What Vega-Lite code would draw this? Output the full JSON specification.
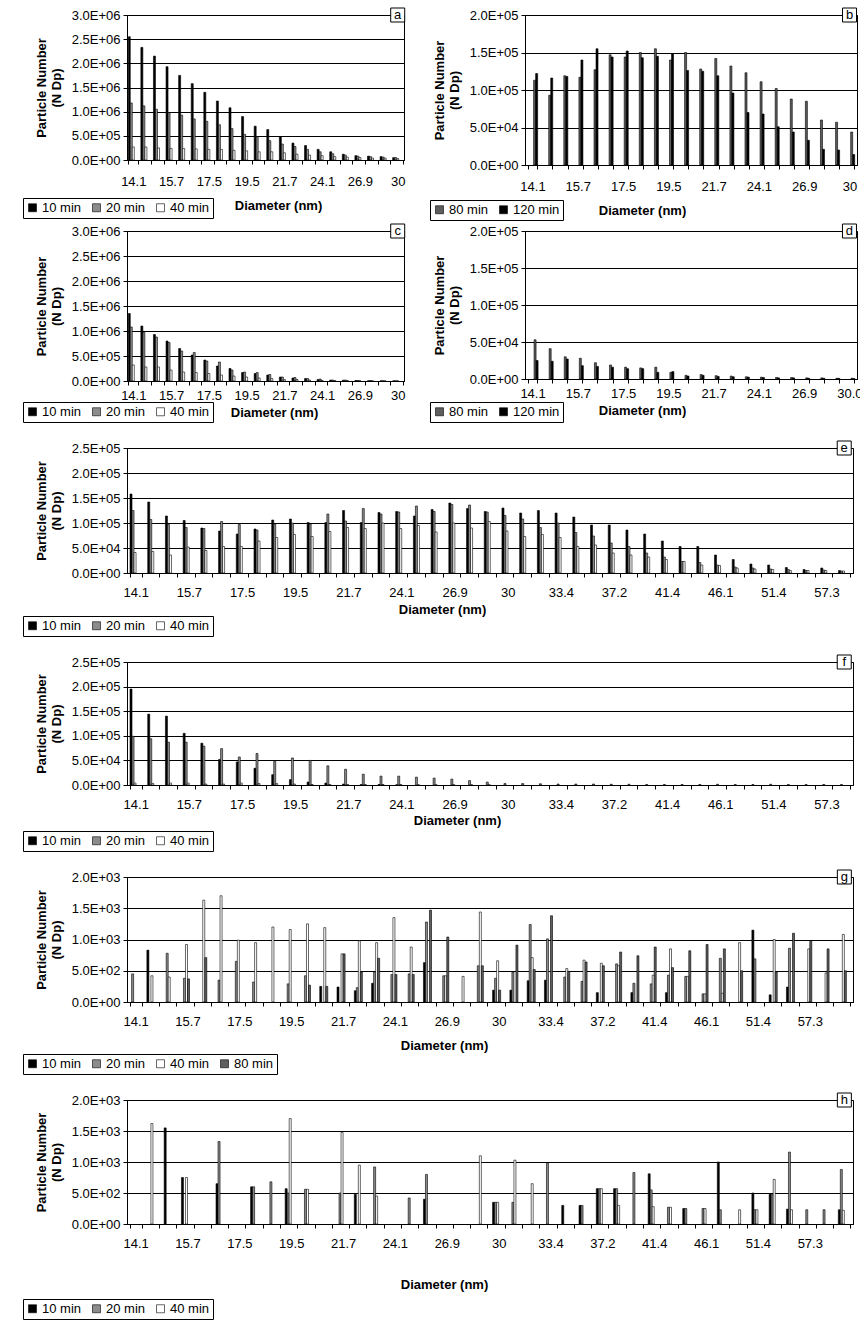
{
"$schema": "https://vega.github.io/schema/vega-lite/v6.json",
"padding": {"left": 22, "top": 5, "right": 4, "bottom": 3},
"background": "white",
"config": {
 "font": "Liberation Sans",
 "view": {"stroke": "black", "strokeWidth": 1},
 "axis": {"labelFontSize": 13, "titleFontSize": 13, "titleFontWeight": "bold", "labelColor": "black", "titleColor": "black", "domainColor": "black", "tickColor": "black", "gridColor": "black", "gridOpacity": 1, "labelFont": "Liberation Sans", "titleFont": "Liberation Sans"},
 "axisY": {"labelOverlap": false, "labelFlush": false, "titleLineHeight": 15},
 "legend": {"labelFont": "Liberation Sans", "labelFontSize": 13, "labelColor": "black"}
},
"datasets": {
"a": [
{"d":"14.1","s":"10 min","v":2550000},{"d":"14.6","s":"10 min","v":2330000},{"d":"15.1","s":"10 min","v":2150000},{"d":"15.7","s":"10 min","v":1930000},{"d":"16.3","s":"10 min","v":1750000},{"d":"16.8","s":"10 min","v":1580000},{"d":"17.5","s":"10 min","v":1400000},{"d":"18.1","s":"10 min","v":1220000},{"d":"18.8","s":"10 min","v":1080000},{"d":"19.5","s":"10 min","v":900000},{"d":"20.2","s":"10 min","v":700000},{"d":"20.9","s":"10 min","v":630000},{"d":"21.7","s":"10 min","v":480000},{"d":"22.5","s":"10 min","v":350000},{"d":"23.3","s":"10 min","v":300000},{"d":"24.1","s":"10 min","v":220000},{"d":"25.0","s":"10 min","v":170000},{"d":"25.9","s":"10 min","v":120000},{"d":"26.9","s":"10 min","v":90000},{"d":"27.9","s":"10 min","v":80000},{"d":"28.9","s":"10 min","v":70000},{"d":"30","s":"10 min","v":50000},
{"d":"14.1","s":"20 min","v":1180000},{"d":"14.6","s":"20 min","v":1120000},{"d":"15.1","s":"20 min","v":1050000},{"d":"15.7","s":"20 min","v":980000},{"d":"16.3","s":"20 min","v":930000},{"d":"16.8","s":"20 min","v":850000},{"d":"17.5","s":"20 min","v":800000},{"d":"18.1","s":"20 min","v":730000},{"d":"18.8","s":"20 min","v":650000},{"d":"19.5","s":"20 min","v":530000},{"d":"20.2","s":"20 min","v":480000},{"d":"20.9","s":"20 min","v":400000},{"d":"21.7","s":"20 min","v":330000},{"d":"22.5","s":"20 min","v":280000},{"d":"23.3","s":"20 min","v":220000},{"d":"24.1","s":"20 min","v":170000},{"d":"25.0","s":"20 min","v":130000},{"d":"25.9","s":"20 min","v":100000},{"d":"26.9","s":"20 min","v":80000},{"d":"27.9","s":"20 min","v":70000},{"d":"28.9","s":"20 min","v":60000},{"d":"30","s":"20 min","v":50000},
{"d":"14.1","s":"40 min","v":270000},{"d":"14.6","s":"40 min","v":270000},{"d":"15.1","s":"40 min","v":250000},{"d":"15.7","s":"40 min","v":240000},{"d":"16.3","s":"40 min","v":240000},{"d":"16.8","s":"40 min","v":230000},{"d":"17.5","s":"40 min","v":220000},{"d":"18.1","s":"40 min","v":220000},{"d":"18.8","s":"40 min","v":200000},{"d":"19.5","s":"40 min","v":190000},{"d":"20.2","s":"40 min","v":170000},{"d":"20.9","s":"40 min","v":170000},{"d":"21.7","s":"40 min","v":150000},{"d":"22.5","s":"40 min","v":120000},{"d":"23.3","s":"40 min","v":100000},{"d":"24.1","s":"40 min","v":90000},{"d":"25.0","s":"40 min","v":70000},{"d":"25.9","s":"40 min","v":60000},{"d":"26.9","s":"40 min","v":50000},{"d":"27.9","s":"40 min","v":40000},{"d":"28.9","s":"40 min","v":40000},{"d":"30","s":"40 min","v":30000}
],
"b": [
{"d":"14.1","s":"80 min","v":113000},{"d":"14.6","s":"80 min","v":93000},{"d":"15.1","s":"80 min","v":119000},{"d":"15.7","s":"80 min","v":117000},{"d":"16.3","s":"80 min","v":127000},{"d":"16.8","s":"80 min","v":147000},{"d":"17.5","s":"80 min","v":144000},{"d":"18.1","s":"80 min","v":150000},{"d":"18.8","s":"80 min","v":155000},{"d":"19.5","s":"80 min","v":140000},{"d":"20.2","s":"80 min","v":150000},{"d":"20.9","s":"80 min","v":128000},{"d":"21.7","s":"80 min","v":142000},{"d":"22.5","s":"80 min","v":132000},{"d":"23.3","s":"80 min","v":123000},{"d":"24.1","s":"80 min","v":111000},{"d":"25.0","s":"80 min","v":102000},{"d":"25.9","s":"80 min","v":88000},{"d":"26.9","s":"80 min","v":85000},{"d":"27.9","s":"80 min","v":60000},{"d":"28.9","s":"80 min","v":57000},{"d":"30","s":"80 min","v":44000},
{"d":"14.1","s":"120 min","v":122000},{"d":"14.6","s":"120 min","v":116000},{"d":"15.1","s":"120 min","v":118000},{"d":"15.7","s":"120 min","v":140000},{"d":"16.3","s":"120 min","v":155000},{"d":"16.8","s":"120 min","v":144000},{"d":"17.5","s":"120 min","v":152000},{"d":"18.1","s":"120 min","v":143000},{"d":"18.8","s":"120 min","v":145000},{"d":"19.5","s":"120 min","v":148000},{"d":"20.2","s":"120 min","v":126000},{"d":"20.9","s":"120 min","v":125000},{"d":"21.7","s":"120 min","v":119000},{"d":"22.5","s":"120 min","v":96000},{"d":"23.3","s":"120 min","v":70000},{"d":"24.1","s":"120 min","v":68000},{"d":"25.0","s":"120 min","v":51000},{"d":"25.9","s":"120 min","v":44000},{"d":"26.9","s":"120 min","v":33000},{"d":"27.9","s":"120 min","v":21000},{"d":"28.9","s":"120 min","v":20000},{"d":"30","s":"120 min","v":14000}
],
"c": [
{"d":"14.1","s":"10 min","v":1350000},{"d":"14.6","s":"10 min","v":1100000},{"d":"15.1","s":"10 min","v":930000},{"d":"15.7","s":"10 min","v":800000},{"d":"16.3","s":"10 min","v":650000},{"d":"16.8","s":"10 min","v":520000},{"d":"17.5","s":"10 min","v":420000},{"d":"18.1","s":"10 min","v":300000},{"d":"18.8","s":"10 min","v":250000},{"d":"19.5","s":"10 min","v":170000},{"d":"20.2","s":"10 min","v":150000},{"d":"20.9","s":"10 min","v":120000},{"d":"21.7","s":"10 min","v":80000},{"d":"22.5","s":"10 min","v":60000},{"d":"23.3","s":"10 min","v":50000},{"d":"24.1","s":"10 min","v":30000},{"d":"25.0","s":"10 min","v":20000},{"d":"25.9","s":"10 min","v":15000},{"d":"26.9","s":"10 min","v":10000},{"d":"27.9","s":"10 min","v":5000},{"d":"28.9","s":"10 min","v":4000},{"d":"30","s":"10 min","v":3000},
{"d":"14.1","s":"20 min","v":1080000},{"d":"14.6","s":"20 min","v":970000},{"d":"15.1","s":"20 min","v":880000},{"d":"15.7","s":"20 min","v":770000},{"d":"16.3","s":"20 min","v":600000},{"d":"16.8","s":"20 min","v":570000},{"d":"17.5","s":"20 min","v":400000},{"d":"18.1","s":"20 min","v":380000},{"d":"18.8","s":"20 min","v":220000},{"d":"19.5","s":"20 min","v":180000},{"d":"20.2","s":"20 min","v":170000},{"d":"20.9","s":"20 min","v":130000},{"d":"21.7","s":"20 min","v":80000},{"d":"22.5","s":"20 min","v":70000},{"d":"23.3","s":"20 min","v":50000},{"d":"24.1","s":"20 min","v":40000},{"d":"25.0","s":"20 min","v":20000},{"d":"25.9","s":"20 min","v":20000},{"d":"26.9","s":"20 min","v":10000},{"d":"27.9","s":"20 min","v":10000},{"d":"28.9","s":"20 min","v":5000},{"d":"30","s":"20 min","v":4000},
{"d":"14.1","s":"40 min","v":320000},{"d":"14.6","s":"40 min","v":280000},{"d":"15.1","s":"40 min","v":280000},{"d":"15.7","s":"40 min","v":220000},{"d":"16.3","s":"40 min","v":180000},{"d":"16.8","s":"40 min","v":170000},{"d":"17.5","s":"40 min","v":150000},{"d":"18.1","s":"40 min","v":120000},{"d":"18.8","s":"40 min","v":100000},{"d":"19.5","s":"40 min","v":80000},{"d":"20.2","s":"40 min","v":60000},{"d":"20.9","s":"40 min","v":50000},{"d":"21.7","s":"40 min","v":30000},{"d":"22.5","s":"40 min","v":30000},{"d":"23.3","s":"40 min","v":20000},{"d":"24.1","s":"40 min","v":10000},{"d":"25.0","s":"40 min","v":10000},{"d":"25.9","s":"40 min","v":10000},{"d":"26.9","s":"40 min","v":5000},{"d":"27.9","s":"40 min","v":3000},{"d":"28.9","s":"40 min","v":2000},{"d":"30","s":"40 min","v":2000}
],
"d": [
{"d":"14.1","s":"80 min","v":53000},{"d":"14.6","s":"80 min","v":41000},{"d":"15.1","s":"80 min","v":30000},{"d":"15.7","s":"80 min","v":28000},{"d":"16.3","s":"80 min","v":22000},{"d":"16.8","s":"80 min","v":19000},{"d":"17.5","s":"80 min","v":16000},{"d":"18.1","s":"80 min","v":15000},{"d":"18.8","s":"80 min","v":16000},{"d":"19.5","s":"80 min","v":9000},{"d":"20.2","s":"80 min","v":5000},{"d":"20.9","s":"80 min","v":6000},{"d":"21.7","s":"80 min","v":4500},{"d":"22.5","s":"80 min","v":4000},{"d":"23.3","s":"80 min","v":3000},{"d":"24.1","s":"80 min","v":2500},{"d":"25.0","s":"80 min","v":2000},{"d":"25.9","s":"80 min","v":2000},{"d":"26.9","s":"80 min","v":1500},{"d":"27.9","s":"80 min","v":1500},{"d":"28.9","s":"80 min","v":1000},{"d":"30.0","s":"80 min","v":1000},
{"d":"14.1","s":"120 min","v":25000},{"d":"14.6","s":"120 min","v":24000},{"d":"15.1","s":"120 min","v":27000},{"d":"15.7","s":"120 min","v":18000},{"d":"16.3","s":"120 min","v":17000},{"d":"16.8","s":"120 min","v":16000},{"d":"17.5","s":"120 min","v":14000},{"d":"18.1","s":"120 min","v":14000},{"d":"18.8","s":"120 min","v":9000},{"d":"19.5","s":"120 min","v":10000},{"d":"20.2","s":"120 min","v":4000},{"d":"20.9","s":"120 min","v":5000},{"d":"21.7","s":"120 min","v":3500},{"d":"22.5","s":"120 min","v":3000},{"d":"23.3","s":"120 min","v":2500},{"d":"24.1","s":"120 min","v":2000},{"d":"25.0","s":"120 min","v":1500},{"d":"25.9","s":"120 min","v":1500},{"d":"26.9","s":"120 min","v":1000},{"d":"27.9","s":"120 min","v":1000},{"d":"28.9","s":"120 min","v":800},{"d":"30.0","s":"120 min","v":500}
],
"e": [
{"d":"14.1","s":"10 min","v":158000},{"d":"14.6","s":"10 min","v":142000},{"d":"15.1","s":"10 min","v":114000},{"d":"15.7","s":"10 min","v":105000},{"d":"16.3","s":"10 min","v":90000},{"d":"16.8","s":"10 min","v":84000},{"d":"17.5","s":"10 min","v":78000},{"d":"18.1","s":"10 min","v":88000},{"d":"18.8","s":"10 min","v":106000},{"d":"19.5","s":"10 min","v":108000},{"d":"20.2","s":"10 min","v":101000},{"d":"20.9","s":"10 min","v":101000},{"d":"21.7","s":"10 min","v":125000},{"d":"22.5","s":"10 min","v":101000},{"d":"23.3","s":"10 min","v":121000},{"d":"24.1","s":"10 min","v":123000},{"d":"25.0","s":"10 min","v":114000},{"d":"25.9","s":"10 min","v":127000},{"d":"26.9","s":"10 min","v":140000},{"d":"27.9","s":"10 min","v":129000},{"d":"28.9","s":"10 min","v":123000},{"d":"30","s":"10 min","v":130000},{"d":"31.1","s":"10 min","v":120000},{"d":"32.2","s":"10 min","v":125000},{"d":"33.4","s":"10 min","v":120000},{"d":"34.6","s":"10 min","v":112000},{"d":"35.9","s":"10 min","v":96000},{"d":"37.2","s":"10 min","v":96000},{"d":"38.5","s":"10 min","v":86000},{"d":"40.0","s":"10 min","v":78000},{"d":"41.4","s":"10 min","v":64000},{"d":"42.9","s":"10 min","v":53000},{"d":"44.5","s":"10 min","v":53000},{"d":"46.1","s":"10 min","v":36000},{"d":"47.8","s":"10 min","v":27000},{"d":"49.6","s":"10 min","v":18000},{"d":"51.4","s":"10 min","v":16000},{"d":"53.3","s":"10 min","v":11000},{"d":"55.2","s":"10 min","v":7000},{"d":"57.3","s":"10 min","v":10000},{"d":"59.4","s":"10 min","v":5000},
{"d":"14.1","s":"20 min","v":125000},{"d":"14.6","s":"20 min","v":107000},{"d":"15.1","s":"20 min","v":97000},{"d":"15.7","s":"20 min","v":91000},{"d":"16.3","s":"20 min","v":89000},{"d":"16.8","s":"20 min","v":103000},{"d":"17.5","s":"20 min","v":97000},{"d":"18.1","s":"20 min","v":86000},{"d":"18.8","s":"20 min","v":98000},{"d":"19.5","s":"20 min","v":100000},{"d":"20.2","s":"20 min","v":98000},{"d":"20.9","s":"20 min","v":118000},{"d":"21.7","s":"20 min","v":104000},{"d":"22.5","s":"20 min","v":129000},{"d":"23.3","s":"20 min","v":118000},{"d":"24.1","s":"20 min","v":122000},{"d":"25.0","s":"20 min","v":134000},{"d":"25.9","s":"20 min","v":123000},{"d":"26.9","s":"20 min","v":137000},{"d":"27.9","s":"20 min","v":136000},{"d":"28.9","s":"20 min","v":122000},{"d":"30","s":"20 min","v":115000},{"d":"31.1","s":"20 min","v":108000},{"d":"32.2","s":"20 min","v":91000},{"d":"33.4","s":"20 min","v":100000},{"d":"34.6","s":"20 min","v":81000},{"d":"35.9","s":"20 min","v":74000},{"d":"37.2","s":"20 min","v":60000},{"d":"38.5","s":"20 min","v":53000},{"d":"40.0","s":"20 min","v":40000},{"d":"41.4","s":"20 min","v":32000},{"d":"42.9","s":"20 min","v":23000},{"d":"44.5","s":"20 min","v":21000},{"d":"46.1","s":"20 min","v":16000},{"d":"47.8","s":"20 min","v":12000},{"d":"49.6","s":"20 min","v":10000},{"d":"51.4","s":"20 min","v":8000},{"d":"53.3","s":"20 min","v":7000},{"d":"55.2","s":"20 min","v":5000},{"d":"57.3","s":"20 min","v":6000},{"d":"59.4","s":"20 min","v":4000},
{"d":"14.1","s":"40 min","v":41000},{"d":"14.6","s":"40 min","v":43000},{"d":"15.1","s":"40 min","v":36000},{"d":"15.7","s":"40 min","v":52000},{"d":"16.3","s":"40 min","v":45000},{"d":"16.8","s":"40 min","v":53000},{"d":"17.5","s":"40 min","v":53000},{"d":"18.1","s":"40 min","v":64000},{"d":"18.8","s":"40 min","v":71000},{"d":"19.5","s":"40 min","v":77000},{"d":"20.2","s":"40 min","v":73000},{"d":"20.9","s":"40 min","v":83000},{"d":"21.7","s":"40 min","v":91000},{"d":"22.5","s":"40 min","v":89000},{"d":"23.3","s":"40 min","v":100000},{"d":"24.1","s":"40 min","v":89000},{"d":"25.0","s":"40 min","v":95000},{"d":"25.9","s":"40 min","v":82000},{"d":"26.9","s":"40 min","v":100000},{"d":"27.9","s":"40 min","v":90000},{"d":"28.9","s":"40 min","v":103000},{"d":"30","s":"40 min","v":84000},{"d":"31.1","s":"40 min","v":73000},{"d":"32.2","s":"40 min","v":77000},{"d":"33.4","s":"40 min","v":71000},{"d":"34.6","s":"40 min","v":53000},{"d":"35.9","s":"40 min","v":56000},{"d":"37.2","s":"40 min","v":40000},{"d":"38.5","s":"40 min","v":36000},{"d":"40.0","s":"40 min","v":32000},{"d":"41.4","s":"40 min","v":27000},{"d":"42.9","s":"40 min","v":23000},{"d":"44.5","s":"40 min","v":16000},{"d":"46.1","s":"40 min","v":15000},{"d":"47.8","s":"40 min","v":10000},{"d":"49.6","s":"40 min","v":8000},{"d":"51.4","s":"40 min","v":7000},{"d":"53.3","s":"40 min","v":5000},{"d":"55.2","s":"40 min","v":5000},{"d":"57.3","s":"40 min","v":5000},{"d":"59.4","s":"40 min","v":4000}
],
"f": [
{"d":"14.1","s":"10 min","v":195000},{"d":"14.6","s":"10 min","v":144000},{"d":"15.1","s":"10 min","v":140000},{"d":"15.7","s":"10 min","v":105000},{"d":"16.3","s":"10 min","v":85000},{"d":"16.8","s":"10 min","v":52000},{"d":"17.5","s":"10 min","v":47000},{"d":"18.1","s":"10 min","v":34000},{"d":"18.8","s":"10 min","v":21000},{"d":"19.5","s":"10 min","v":11000},{"d":"20.2","s":"10 min","v":6000},{"d":"20.9","s":"10 min","v":4000},{"d":"21.7","s":"10 min","v":2000},{"d":"22.5","s":"10 min","v":1000},{"d":"23.3","s":"10 min","v":1000},{"d":"24.1","s":"10 min","v":500},
{"d":"14.1","s":"20 min","v":99000},{"d":"14.6","s":"20 min","v":94000},{"d":"15.1","s":"20 min","v":87000},{"d":"15.7","s":"20 min","v":87000},{"d":"16.3","s":"20 min","v":79000},{"d":"16.8","s":"20 min","v":74000},{"d":"17.5","s":"20 min","v":57000},{"d":"18.1","s":"20 min","v":64000},{"d":"18.8","s":"20 min","v":48000},{"d":"19.5","s":"20 min","v":55000},{"d":"20.2","s":"20 min","v":50000},{"d":"20.9","s":"20 min","v":39000},{"d":"21.7","s":"20 min","v":32000},{"d":"22.5","s":"20 min","v":22000},{"d":"23.3","s":"20 min","v":18000},{"d":"24.1","s":"20 min","v":18000},{"d":"25.0","s":"20 min","v":16000},{"d":"25.9","s":"20 min","v":14000},{"d":"26.9","s":"20 min","v":12000},{"d":"27.9","s":"20 min","v":9000},{"d":"28.9","s":"20 min","v":6000},{"d":"30","s":"20 min","v":3000},{"d":"31.1","s":"20 min","v":3000},{"d":"32.2","s":"20 min","v":2500},{"d":"33.4","s":"20 min","v":2000},{"d":"34.6","s":"20 min","v":2000},{"d":"35.9","s":"20 min","v":2000},{"d":"37.2","s":"20 min","v":1500},{"d":"38.5","s":"20 min","v":1500},{"d":"40.0","s":"20 min","v":1000},{"d":"41.4","s":"20 min","v":1000},{"d":"42.9","s":"20 min","v":1000},{"d":"44.5","s":"20 min","v":1000},{"d":"46.1","s":"20 min","v":1500},{"d":"47.8","s":"20 min","v":1000},{"d":"49.6","s":"20 min","v":1000},{"d":"51.4","s":"20 min","v":1500},{"d":"53.3","s":"20 min","v":1000},{"d":"55.2","s":"20 min","v":1000},{"d":"57.3","s":"20 min","v":1000},{"d":"59.4","s":"20 min","v":1000},
{"d":"14.1","s":"40 min","v":4000},{"d":"14.6","s":"40 min","v":3000},{"d":"15.1","s":"40 min","v":4000},{"d":"15.7","s":"40 min","v":4000},{"d":"16.3","s":"40 min","v":2000},{"d":"16.8","s":"40 min","v":2000},{"d":"17.5","s":"40 min","v":4000},{"d":"18.1","s":"40 min","v":3000},{"d":"18.8","s":"40 min","v":3000},{"d":"19.5","s":"40 min","v":2000},{"d":"20.2","s":"40 min","v":1000},{"d":"20.9","s":"40 min","v":1000},{"d":"21.7","s":"40 min","v":1000},{"d":"22.5","s":"40 min","v":1000},{"d":"23.3","s":"40 min","v":1000},{"d":"24.1","s":"40 min","v":1000},{"d":"25.0","s":"40 min","v":500},{"d":"25.9","s":"40 min","v":500},{"d":"26.9","s":"40 min","v":500},{"d":"27.9","s":"40 min","v":500},{"d":"28.9","s":"40 min","v":500}
],
"g": [
{"d":"14.1","s":"20 min","v":450},
{"d":"14.6","s":"10 min","v":830},{"d":"14.6","s":"40 min","v":420},
{"d":"15.1","s":"20 min","v":780},{"d":"15.1","s":"40 min","v":400},
{"d":"15.7","s":"20 min","v":380},{"d":"15.7","s":"40 min","v":920},{"d":"15.7","s":"80 min","v":370},
{"d":"16.3","s":"40 min","v":1630},{"d":"16.3","s":"80 min","v":710},
{"d":"16.8","s":"20 min","v":350},{"d":"16.8","s":"40 min","v":1700},
{"d":"17.5","s":"20 min","v":650},{"d":"17.5","s":"40 min","v":990},
{"d":"18.1","s":"20 min","v":320},{"d":"18.1","s":"40 min","v":950},
{"d":"18.8","s":"40 min","v":1200},
{"d":"19.5","s":"20 min","v":290},{"d":"19.5","s":"40 min","v":1160},
{"d":"20.2","s":"20 min","v":420},{"d":"20.2","s":"40 min","v":1250},{"d":"20.2","s":"80 min","v":270},
{"d":"20.9","s":"10 min","v":250},{"d":"20.9","s":"40 min","v":1190},{"d":"20.9","s":"80 min","v":250},
{"d":"21.7","s":"10 min","v":240},{"d":"21.7","s":"40 min","v":770},{"d":"21.7","s":"80 min","v":770},
{"d":"22.5","s":"10 min","v":180},{"d":"22.5","s":"20 min","v":230},{"d":"22.5","s":"40 min","v":980},{"d":"22.5","s":"80 min","v":480},
{"d":"23.3","s":"10 min","v":300},{"d":"23.3","s":"20 min","v":480},{"d":"23.3","s":"40 min","v":950},{"d":"23.3","s":"80 min","v":700},
{"d":"24.1","s":"20 min","v":440},{"d":"24.1","s":"40 min","v":1350},{"d":"24.1","s":"80 min","v":440},
{"d":"25.0","s":"20 min","v":450},{"d":"25.0","s":"40 min","v":880},{"d":"25.0","s":"80 min","v":440},
{"d":"25.9","s":"10 min","v":630},{"d":"25.9","s":"20 min","v":1280},{"d":"25.9","s":"80 min","v":1470},
{"d":"26.9","s":"20 min","v":420},{"d":"26.9","s":"40 min","v":420},{"d":"26.9","s":"80 min","v":1040},
{"d":"27.9","s":"40 min","v":410},
{"d":"28.9","s":"20 min","v":580},{"d":"28.9","s":"40 min","v":1440},{"d":"28.9","s":"80 min","v":580},
{"d":"30","s":"10 min","v":190},{"d":"30","s":"20 min","v":380},{"d":"30","s":"40 min","v":660},{"d":"30","s":"80 min","v":190},
{"d":"31.1","s":"10 min","v":190},{"d":"31.1","s":"20 min","v":480},{"d":"31.1","s":"80 min","v":910},
{"d":"32.2","s":"10 min","v":340},{"d":"32.2","s":"20 min","v":1240},{"d":"32.2","s":"40 min","v":710},{"d":"32.2","s":"80 min","v":520},
{"d":"33.4","s":"10 min","v":350},{"d":"33.4","s":"20 min","v":1010},{"d":"33.4","s":"80 min","v":1380},
{"d":"34.6","s":"20 min","v":400},{"d":"34.6","s":"40 min","v":535},{"d":"34.6","s":"80 min","v":490},
{"d":"35.9","s":"20 min","v":330},{"d":"35.9","s":"40 min","v":670},{"d":"35.9","s":"80 min","v":640},
{"d":"37.2","s":"10 min","v":150},{"d":"37.2","s":"40 min","v":620},{"d":"37.2","s":"80 min","v":580},
{"d":"38.5","s":"20 min","v":610},{"d":"38.5","s":"40 min","v":580},{"d":"38.5","s":"80 min","v":800},
{"d":"40.0","s":"10 min","v":150},{"d":"40.0","s":"20 min","v":300},{"d":"40.0","s":"80 min","v":740},
{"d":"41.4","s":"20 min","v":290},{"d":"41.4","s":"40 min","v":430},{"d":"41.4","s":"80 min","v":880},
{"d":"42.9","s":"10 min","v":150},{"d":"42.9","s":"20 min","v":430},{"d":"42.9","s":"40 min","v":850},{"d":"42.9","s":"80 min","v":550},
{"d":"44.5","s":"20 min","v":410},{"d":"44.5","s":"40 min","v":410},{"d":"44.5","s":"80 min","v":820},
{"d":"46.1","s":"20 min","v":130},{"d":"46.1","s":"40 min","v":130},{"d":"46.1","s":"80 min","v":920},
{"d":"47.8","s":"20 min","v":700},{"d":"47.8","s":"40 min","v":140},{"d":"47.8","s":"80 min","v":850},
{"d":"49.6","s":"40 min","v":950},{"d":"49.6","s":"80 min","v":500},
{"d":"51.4","s":"10 min","v":1150},{"d":"51.4","s":"20 min","v":690},
{"d":"53.3","s":"10 min","v":115},{"d":"53.3","s":"40 min","v":1000},{"d":"53.3","s":"80 min","v":480},
{"d":"55.2","s":"10 min","v":240},{"d":"55.2","s":"20 min","v":860},{"d":"55.2","s":"80 min","v":1100},
{"d":"57.3","s":"40 min","v":850},{"d":"57.3","s":"80 min","v":970},
{"d":"59.4","s":"40 min","v":465},{"d":"59.4","s":"80 min","v":850},
{"d":"61.5","s":"40 min","v":1080},{"d":"61.5","s":"80 min","v":500}
],
"h": [
{"d":"14.6","s":"40 min","v":1620},
{"d":"15.1","s":"10 min","v":1550},
{"d":"15.7","s":"10 min","v":750},{"d":"15.7","s":"40 min","v":750},
{"d":"16.8","s":"10 min","v":650},{"d":"16.8","s":"20 min","v":1330},
{"d":"18.1","s":"10 min","v":600},{"d":"18.1","s":"20 min","v":600},
{"d":"18.8","s":"20 min","v":680},
{"d":"19.5","s":"10 min","v":570},{"d":"19.5","s":"20 min","v":500},{"d":"19.5","s":"40 min","v":1700},
{"d":"20.2","s":"20 min","v":560},{"d":"20.2","s":"40 min","v":560},
{"d":"21.7","s":"20 min","v":500},{"d":"21.7","s":"40 min","v":1480},
{"d":"22.5","s":"10 min","v":480},{"d":"22.5","s":"40 min","v":950},
{"d":"23.3","s":"20 min","v":920},{"d":"23.3","s":"40 min","v":450},
{"d":"25.0","s":"20 min","v":420},
{"d":"25.9","s":"10 min","v":400},{"d":"25.9","s":"20 min","v":800},
{"d":"28.9","s":"40 min","v":1100},
{"d":"30","s":"10 min","v":350},{"d":"30","s":"20 min","v":350},{"d":"30","s":"40 min","v":350},
{"d":"31.1","s":"20 min","v":350},{"d":"31.1","s":"40 min","v":1030},
{"d":"32.2","s":"40 min","v":650},
{"d":"33.4","s":"20 min","v":980},
{"d":"34.6","s":"10 min","v":300},
{"d":"35.9","s":"10 min","v":300},{"d":"35.9","s":"20 min","v":300},
{"d":"37.2","s":"10 min","v":570},{"d":"37.2","s":"20 min","v":570},{"d":"37.2","s":"40 min","v":570},
{"d":"38.5","s":"10 min","v":570},{"d":"38.5","s":"20 min","v":570},{"d":"38.5","s":"40 min","v":300},
{"d":"40.0","s":"20 min","v":830},
{"d":"41.4","s":"10 min","v":810},{"d":"41.4","s":"20 min","v":550},{"d":"41.4","s":"40 min","v":280},
{"d":"42.9","s":"20 min","v":270},{"d":"42.9","s":"40 min","v":270},
{"d":"44.5","s":"10 min","v":250},{"d":"44.5","s":"20 min","v":250},
{"d":"46.1","s":"20 min","v":250},{"d":"46.1","s":"40 min","v":250},
{"d":"47.8","s":"10 min","v":1000},{"d":"47.8","s":"20 min","v":230},
{"d":"49.6","s":"40 min","v":230},
{"d":"51.4","s":"10 min","v":500},{"d":"51.4","s":"20 min","v":230},{"d":"51.4","s":"40 min","v":230},
{"d":"53.3","s":"10 min","v":480},{"d":"53.3","s":"20 min","v":480},{"d":"53.3","s":"40 min","v":720},
{"d":"55.2","s":"10 min","v":240},{"d":"55.2","s":"20 min","v":1160},{"d":"55.2","s":"40 min","v":230},
{"d":"57.3","s":"20 min","v":230},
{"d":"59.4","s":"20 min","v":230},
{"d":"61.5","s":"10 min","v":230},{"d":"61.5","s":"20 min","v":880},{"d":"61.5","s":"40 min","v":220}
]
},
"resolve": {"scale": {"fill": "independent"}, "legend": {"fill": "independent"}},
"spacing": 15,
"vconcat": [
{
"spacing": 0,
"resolve": {"scale": {"fill": "independent"}, "legend": {"fill": "independent"}},
"vconcat": [
{
"spacing": 21,
"resolve": {"scale": {"fill": "independent"}, "legend": {"fill": "independent"}},
"hconcat": [
{
"width": 277, "height": 145,
"layer": [
{"data": {"name": "a"}, "mark": {"type": "bar", "stroke": "black", "strokeWidth": 0.6},
 "encoding": {
  "x": {"field": "d", "type": "nominal", "scale": {"domain": ["14.1","14.6","15.1","15.7","16.3","16.8","17.5","18.1","18.8","19.5","20.2","20.9","21.7","22.5","23.3","24.1","25.0","25.9","26.9","27.9","28.9","30"], "paddingInner": 0.2, "paddingOuter": 0.1},
   "axis": {"title": "Diameter (nm)", "labelAngle": 0, "labelOverlap": false, "tickBand": "extent", "tickSize": 4, "labelPadding": 11, "titleX": 151, "titleY": 45, "titleBaseline": "middle", "labelExpr": "indexof(['14.1','15.7','17.5','19.5','21.7','24.1','26.9','30','30.0','33.4','37.2','41.4','46.1','51.4','57.3'], datum.label) >= 0 ? datum.label : ''"}},
  "xOffset": {"field": "s", "type": "nominal", "scale": {"domain": ["10 min","20 min","40 min"]}},
  "y": {"field": "v", "type": "quantitative", "scale": {"domain": [0, 3000000], "nice": false},
   "axis": {"values": [0,500000,1000000,1500000,2000000,2500000,3000000], "tickCount": 10, "labelExpr": "replace(format(datum.value,'.1e'),'e+','E+0')", "title": ["Particle Number","(N Dp)"], "grid": true, "tickSize": 4, "labelPadding": 3, "titlePadding": 8}},
  "fill": {"field": "s", "type": "nominal", "scale": {"domain": ["10 min","20 min","40 min"], "range": ["#000000","#8c8c8c","#ffffff"]},
   "legend": {"orient": "none", "legendX": -104, "legendY": 183, "direction": "horizontal", "columns": 3, "title": null, "strokeColor": "black", "fillColor": "white", "padding": 3, "symbolType": "square", "symbolSize": 64, "symbolStrokeColor": "black", "symbolStrokeWidth": 0.6, "columnPadding": 8, "labelOffset": 3}}
 }},
{"data": {"values": [{"t": "a"}]}, "mark": {"type": "point", "shape": "square", "size": 196, "filled": true, "fill": "white", "stroke": "black", "strokeWidth": 1, "opacity": 1}, "encoding": {"x": {"datum": "30"}, "y": {"datum": 3000000, "axis": {"values": [0,500000,1000000,1500000,2000000,2500000,3000000], "tickCount": 10, "labelExpr": "replace(format(datum.value,'.1e'),'e+','E+0')", "title": ["Particle Number","(N Dp)"], "grid": true, "tickSize": 4, "labelPadding": 3, "titlePadding": 8}}}},
{"data": {"values": [{"t": "a"}]}, "mark": {"type": "text", "fontSize": 13, "color": "black"}, "encoding": {"x": {"datum": "30"}, "y": {"datum": 3000000, "axis": {"values": [0,500000,1000000,1500000,2000000,2500000,3000000], "tickCount": 10, "labelExpr": "replace(format(datum.value,'.1e'),'e+','E+0')", "title": ["Particle Number","(N Dp)"], "grid": true, "tickSize": 4, "labelPadding": 3, "titlePadding": 8}}, "text": {"field": "t"}}}
]
},
{
"width": 332, "height": 150,
"layer": [
{"data": {"name": "b"}, "mark": {"type": "bar", "stroke": "black", "strokeWidth": 0.6},
 "encoding": {
  "x": {"field": "d", "type": "nominal", "scale": {"domain": ["14.1","14.6","15.1","15.7","16.3","16.8","17.5","18.1","18.8","19.5","20.2","20.9","21.7","22.5","23.3","24.1","25.0","25.9","26.9","27.9","28.9","30"], "paddingInner": 0.35, "paddingOuter": 0.17},
   "axis": {"title": "Diameter (nm)", "labelAngle": 0, "labelOverlap": false, "tickBand": "extent", "tickSize": 4, "labelPadding": 11, "titleX": 117, "titleY": 45, "titleBaseline": "middle", "labelExpr": "indexof(['14.1','15.7','17.5','19.5','21.7','24.1','26.9','30','30.0','33.4','37.2','41.4','46.1','51.4','57.3'], datum.label) >= 0 ? datum.label : ''"}},
  "xOffset": {"field": "s", "type": "nominal", "scale": {"domain": ["80 min","120 min"]}},
  "y": {"field": "v", "type": "quantitative", "scale": {"domain": [0, 200000], "nice": false},
   "axis": {"values": [0,50000,100000,150000,200000], "tickCount": 10, "labelExpr": "replace(format(datum.value,'.1e'),'e+','E+0')", "title": ["Particle Number","(N Dp)"], "grid": true, "tickSize": 4, "labelPadding": 3, "titlePadding": 8}},
  "fill": {"field": "s", "type": "nominal", "scale": {"domain": ["80 min","120 min"], "range": ["#5e5e5e","#000000"]},
   "legend": {"orient": "none", "legendX": -95, "legendY": 185, "direction": "horizontal", "columns": 2, "title": null, "strokeColor": "black", "fillColor": "white", "padding": 3, "symbolType": "square", "symbolSize": 64, "symbolStrokeColor": "black", "symbolStrokeWidth": 0.6, "columnPadding": 8, "labelOffset": 3}}
 }},
{"data": {"values": [{"t": "b"}]}, "mark": {"type": "point", "shape": "square", "size": 196, "filled": true, "fill": "white", "stroke": "black", "strokeWidth": 1, "opacity": 1}, "encoding": {"x": {"datum": "30"}, "y": {"datum": 200000, "axis": {"values": [0,50000,100000,150000,200000], "tickCount": 10, "labelExpr": "replace(format(datum.value,'.1e'),'e+','E+0')", "title": ["Particle Number","(N Dp)"], "grid": true, "tickSize": 4, "labelPadding": 3, "titlePadding": 8}}}},
{"data": {"values": [{"t": "b"}]}, "mark": {"type": "text", "fontSize": 13, "color": "black"}, "encoding": {"x": {"datum": "30"}, "y": {"datum": 200000, "axis": {"values": [0,50000,100000,150000,200000], "tickCount": 10, "labelExpr": "replace(format(datum.value,'.1e'),'e+','E+0')", "title": ["Particle Number","(N Dp)"], "grid": true, "tickSize": 4, "labelPadding": 3, "titlePadding": 8}}, "text": {"field": "t"}}}
]
}
]
},
{
"spacing": 21,
"resolve": {"scale": {"fill": "independent"}, "legend": {"fill": "independent"}},
"hconcat": [
{
"width": 277, "height": 150,
"layer": [
{"data": {"name": "c"}, "mark": {"type": "bar", "stroke": "black", "strokeWidth": 0.6},
 "encoding": {
  "x": {"field": "d", "type": "nominal", "scale": {"domain": ["14.1","14.6","15.1","15.7","16.3","16.8","17.5","18.1","18.8","19.5","20.2","20.9","21.7","22.5","23.3","24.1","25.0","25.9","26.9","27.9","28.9","30"], "paddingInner": 0.2, "paddingOuter": 0.1},
   "axis": {"title": "Diameter (nm)", "labelAngle": 0, "labelOverlap": false, "tickBand": "extent", "tickSize": 4, "labelPadding": 4, "titleX": 147, "titleY": 31, "titleBaseline": "middle", "labelExpr": "indexof(['14.1','15.7','17.5','19.5','21.7','24.1','26.9','30','30.0','33.4','37.2','41.4','46.1','51.4','57.3'], datum.label) >= 0 ? datum.label : ''"}},
  "xOffset": {"field": "s", "type": "nominal", "scale": {"domain": ["10 min","20 min","40 min"]}},
  "y": {"field": "v", "type": "quantitative", "scale": {"domain": [0, 3000000], "nice": false},
   "axis": {"values": [0,500000,1000000,1500000,2000000,2500000,3000000], "tickCount": 10, "labelExpr": "replace(format(datum.value,'.1e'),'e+','E+0')", "title": ["Particle Number","(N Dp)"], "grid": true, "tickSize": 4, "labelPadding": 3, "titlePadding": 8}},
  "fill": {"field": "s", "type": "nominal", "scale": {"domain": ["10 min","20 min","40 min"], "range": ["#000000","#8c8c8c","#ffffff"]},
   "legend": {"orient": "none", "legendX": -104, "legendY": 171, "direction": "horizontal", "columns": 3, "title": null, "strokeColor": "black", "fillColor": "white", "padding": 3, "symbolType": "square", "symbolSize": 64, "symbolStrokeColor": "black", "symbolStrokeWidth": 0.6, "columnPadding": 8, "labelOffset": 3}}
 }},
{"data": {"values": [{"t": "c"}]}, "mark": {"type": "point", "shape": "square", "size": 196, "filled": true, "fill": "white", "stroke": "black", "strokeWidth": 1, "opacity": 1}, "encoding": {"x": {"datum": "30"}, "y": {"datum": 3000000, "axis": {"values": [0,500000,1000000,1500000,2000000,2500000,3000000], "tickCount": 10, "labelExpr": "replace(format(datum.value,'.1e'),'e+','E+0')", "title": ["Particle Number","(N Dp)"], "grid": true, "tickSize": 4, "labelPadding": 3, "titlePadding": 8}}}},
{"data": {"values": [{"t": "c"}]}, "mark": {"type": "text", "fontSize": 13, "color": "black"}, "encoding": {"x": {"datum": "30"}, "y": {"datum": 3000000, "axis": {"values": [0,500000,1000000,1500000,2000000,2500000,3000000], "tickCount": 10, "labelExpr": "replace(format(datum.value,'.1e'),'e+','E+0')", "title": ["Particle Number","(N Dp)"], "grid": true, "tickSize": 4, "labelPadding": 3, "titlePadding": 8}}, "text": {"field": "t"}}}
]
},
{
"width": 332, "height": 148,
"layer": [
{"data": {"name": "d"}, "mark": {"type": "bar", "stroke": "black", "strokeWidth": 0.6},
 "encoding": {
  "x": {"field": "d", "type": "nominal", "scale": {"domain": ["14.1","14.6","15.1","15.7","16.3","16.8","17.5","18.1","18.8","19.5","20.2","20.9","21.7","22.5","23.3","24.1","25.0","25.9","26.9","27.9","28.9","30.0"], "paddingInner": 0.4, "paddingOuter": 0.2},
   "axis": {"title": "Diameter (nm)", "labelAngle": 0, "labelOverlap": false, "tickBand": "extent", "tickSize": 4, "labelPadding": 4, "titleX": 117, "titleY": 31, "titleBaseline": "middle", "labelExpr": "indexof(['14.1','15.7','17.5','19.5','21.7','24.1','26.9','30','30.0','33.4','37.2','41.4','46.1','51.4','57.3'], datum.label) >= 0 ? datum.label : ''"}},
  "xOffset": {"field": "s", "type": "nominal", "scale": {"domain": ["80 min","120 min"]}},
  "y": {"field": "v", "type": "quantitative", "scale": {"domain": [0, 200000], "nice": false},
   "axis": {"values": [0,50000,100000,150000,200000], "tickCount": 10, "labelExpr": "replace(format(datum.value,'.1e'),'e+','E+0')", "title": ["Particle Number","(N Dp)"], "grid": true, "tickSize": 4, "labelPadding": 3, "titlePadding": 8}},
  "fill": {"field": "s", "type": "nominal", "scale": {"domain": ["80 min","120 min"], "range": ["#5e5e5e","#000000"]},
   "legend": {"orient": "none", "legendX": -95, "legendY": 171, "direction": "horizontal", "columns": 2, "title": null, "strokeColor": "black", "fillColor": "white", "padding": 3, "symbolType": "square", "symbolSize": 64, "symbolStrokeColor": "black", "symbolStrokeWidth": 0.6, "columnPadding": 8, "labelOffset": 3}}
 }},
{"data": {"values": [{"t": "d"}]}, "mark": {"type": "point", "shape": "square", "size": 196, "filled": true, "fill": "white", "stroke": "black", "strokeWidth": 1, "opacity": 1}, "encoding": {"x": {"datum": "30.0"}, "y": {"datum": 200000, "axis": {"values": [0,50000,100000,150000,200000], "tickCount": 10, "labelExpr": "replace(format(datum.value,'.1e'),'e+','E+0')", "title": ["Particle Number","(N Dp)"], "grid": true, "tickSize": 4, "labelPadding": 3, "titlePadding": 8}}}},
{"data": {"values": [{"t": "d"}]}, "mark": {"type": "text", "fontSize": 13, "color": "black"}, "encoding": {"x": {"datum": "30.0"}, "y": {"datum": 200000, "axis": {"values": [0,50000,100000,150000,200000], "tickCount": 10, "labelExpr": "replace(format(datum.value,'.1e'),'e+','E+0')", "title": ["Particle Number","(N Dp)"], "grid": true, "tickSize": 4, "labelPadding": 3, "titlePadding": 8}}, "text": {"field": "t"}}}
]
}
]
}
]
},
{
"width": 726, "height": 125,
"layer": [
{"data": {"name": "e"}, "mark": {"type": "bar", "stroke": "black", "strokeWidth": 0.6},
 "encoding": {
  "x": {"field": "d", "type": "nominal", "scale": {"domain": ["14.1","14.6","15.1","15.7","16.3","16.8","17.5","18.1","18.8","19.5","20.2","20.9","21.7","22.5","23.3","24.1","25.0","25.9","26.9","27.9","28.9","30","31.1","32.2","33.4","34.6","35.9","37.2","38.5","40.0","41.4","42.9","44.5","46.1","47.8","49.6","51.4","53.3","55.2","57.3","59.4"], "paddingInner": 0.35, "paddingOuter": 0.17},
   "axis": {"title": "Diameter (nm)", "labelAngle": 0, "labelOverlap": false, "tickBand": "extent", "tickSize": 4, "labelPadding": 9, "titleX": 315, "titleY": 36, "titleBaseline": "middle", "labelExpr": "indexof(['14.1','15.7','17.5','19.5','21.7','24.1','26.9','30','30.0','33.4','37.2','41.4','46.1','51.4','57.3'], datum.label) >= 0 ? datum.label : ''"}},
  "xOffset": {"field": "s", "type": "nominal", "scale": {"domain": ["10 min","20 min","40 min"]}},
  "y": {"field": "v", "type": "quantitative", "scale": {"domain": [0, 250000], "nice": false},
   "axis": {"values": [0,50000,100000,150000,200000,250000], "tickCount": 10, "labelExpr": "replace(format(datum.value,'.1e'),'e+','E+0')", "title": ["Particle Number","(N Dp)"], "grid": true, "tickSize": 4, "labelPadding": 3, "titlePadding": 8}},
  "fill": {"field": "s", "type": "nominal", "scale": {"domain": ["10 min","20 min","40 min"], "range": ["#000000","#8c8c8c","#ffffff"]},
   "legend": {"orient": "none", "legendX": -104, "legendY": 168, "direction": "horizontal", "columns": 3, "title": null, "strokeColor": "black", "fillColor": "white", "padding": 3, "symbolType": "square", "symbolSize": 64, "symbolStrokeColor": "black", "symbolStrokeWidth": 0.6, "columnPadding": 8, "labelOffset": 3}}
 }},
{"data": {"values": [{"t": "e"}]}, "mark": {"type": "point", "shape": "square", "size": 196, "filled": true, "fill": "white", "stroke": "black", "strokeWidth": 1, "opacity": 1}, "encoding": {"x": {"datum": "59.4"}, "y": {"datum": 250000, "axis": {"values": [0,50000,100000,150000,200000,250000], "tickCount": 10, "labelExpr": "replace(format(datum.value,'.1e'),'e+','E+0')", "title": ["Particle Number","(N Dp)"], "grid": true, "tickSize": 4, "labelPadding": 3, "titlePadding": 8}}}},
{"data": {"values": [{"t": "e"}]}, "mark": {"type": "text", "fontSize": 13, "color": "black"}, "encoding": {"x": {"datum": "59.4"}, "y": {"datum": 250000, "axis": {"values": [0,50000,100000,150000,200000,250000], "tickCount": 10, "labelExpr": "replace(format(datum.value,'.1e'),'e+','E+0')", "title": ["Particle Number","(N Dp)"], "grid": true, "tickSize": 4, "labelPadding": 3, "titlePadding": 8}}, "text": {"field": "t"}}}
]
},
{
"width": 726, "height": 123,
"layer": [
{"data": {"name": "f"}, "mark": {"type": "bar", "stroke": "black", "strokeWidth": 0.6},
 "encoding": {
  "x": {"field": "d", "type": "nominal", "scale": {"domain": ["14.1","14.6","15.1","15.7","16.3","16.8","17.5","18.1","18.8","19.5","20.2","20.9","21.7","22.5","23.3","24.1","25.0","25.9","26.9","27.9","28.9","30","31.1","32.2","33.4","34.6","35.9","37.2","38.5","40.0","41.4","42.9","44.5","46.1","47.8","49.6","51.4","53.3","55.2","57.3","59.4"], "paddingInner": 0.35, "paddingOuter": 0.17},
   "axis": {"title": "Diameter (nm)", "labelAngle": 0, "labelOverlap": false, "tickBand": "extent", "tickSize": 4, "labelPadding": 9, "titleX": 330, "titleY": 35, "titleBaseline": "middle", "labelExpr": "indexof(['14.1','15.7','17.5','19.5','21.7','24.1','26.9','30','30.0','33.4','37.2','41.4','46.1','51.4','57.3'], datum.label) >= 0 ? datum.label : ''"}},
  "xOffset": {"field": "s", "type": "nominal", "scale": {"domain": ["10 min","20 min","40 min"]}},
  "y": {"field": "v", "type": "quantitative", "scale": {"domain": [0, 250000], "nice": false},
   "axis": {"values": [0,50000,100000,150000,200000,250000], "tickCount": 10, "labelExpr": "replace(format(datum.value,'.1e'),'e+','E+0')", "title": ["Particle Number","(N Dp)"], "grid": true, "tickSize": 4, "labelPadding": 3, "titlePadding": 8}},
  "fill": {"field": "s", "type": "nominal", "scale": {"domain": ["10 min","20 min","40 min"], "range": ["#000000","#8c8c8c","#ffffff"]},
   "legend": {"orient": "none", "legendX": -104, "legendY": 169, "direction": "horizontal", "columns": 3, "title": null, "strokeColor": "black", "fillColor": "white", "padding": 3, "symbolType": "square", "symbolSize": 64, "symbolStrokeColor": "black", "symbolStrokeWidth": 0.6, "columnPadding": 8, "labelOffset": 3}}
 }},
{"data": {"values": [{"t": "f"}]}, "mark": {"type": "point", "shape": "square", "size": 196, "filled": true, "fill": "white", "stroke": "black", "strokeWidth": 1, "opacity": 1}, "encoding": {"x": {"datum": "59.4"}, "y": {"datum": 250000, "axis": {"values": [0,50000,100000,150000,200000,250000], "tickCount": 10, "labelExpr": "replace(format(datum.value,'.1e'),'e+','E+0')", "title": ["Particle Number","(N Dp)"], "grid": true, "tickSize": 4, "labelPadding": 3, "titlePadding": 8}}}},
{"data": {"values": [{"t": "f"}]}, "mark": {"type": "text", "fontSize": 13, "color": "black"}, "encoding": {"x": {"datum": "59.4"}, "y": {"datum": 250000, "axis": {"values": [0,50000,100000,150000,200000,250000], "tickCount": 10, "labelExpr": "replace(format(datum.value,'.1e'),'e+','E+0')", "title": ["Particle Number","(N Dp)"], "grid": true, "tickSize": 4, "labelPadding": 3, "titlePadding": 8}}, "text": {"field": "t"}}}
]
},
{
"width": 726, "height": 125,
"layer": [
{"data": {"name": "g"}, "mark": {"type": "bar", "stroke": "black", "strokeWidth": 0.6},
 "encoding": {
  "x": {"field": "d", "type": "nominal", "scale": {"domain": ["14.1","14.6","15.1","15.7","16.3","16.8","17.5","18.1","18.8","19.5","20.2","20.9","21.7","22.5","23.3","24.1","25.0","25.9","26.9","27.9","28.9","30","31.1","32.2","33.4","34.6","35.9","37.2","38.5","40.0","41.4","42.9","44.5","46.1","47.8","49.6","51.4","53.3","55.2","57.3","59.4","61.5"], "paddingInner": 0.3, "paddingOuter": 0.15},
   "axis": {"title": "Diameter (nm)", "labelAngle": 0, "labelOverlap": false, "tickBand": "extent", "tickSize": 4, "labelPadding": 9, "titleX": 317, "titleY": 43, "titleBaseline": "middle", "labelExpr": "indexof(['14.1','15.7','17.5','19.5','21.7','24.1','26.9','30','30.0','33.4','37.2','41.4','46.1','51.4','57.3'], datum.label) >= 0 ? datum.label : ''"}},
  "xOffset": {"field": "s", "type": "nominal", "scale": {"domain": ["10 min","20 min","40 min","80 min"]}},
  "y": {"field": "v", "type": "quantitative", "scale": {"domain": [0, 2000], "nice": false},
   "axis": {"values": [0,500,1000,1500,2000], "tickCount": 10, "labelExpr": "replace(format(datum.value,'.1e'),'e+','E+0')", "title": ["Particle Number","(N Dp)"], "grid": true, "tickSize": 4, "labelPadding": 3, "titlePadding": 8}},
  "fill": {"field": "s", "type": "nominal", "scale": {"domain": ["10 min","20 min","40 min","80 min"], "range": ["#000000","#8c8c8c","#ffffff","#5e5e5e"]},
   "legend": {"orient": "none", "legendX": -104, "legendY": 177, "direction": "horizontal", "columns": 4, "title": null, "strokeColor": "black", "fillColor": "white", "padding": 3, "symbolType": "square", "symbolSize": 64, "symbolStrokeColor": "black", "symbolStrokeWidth": 0.6, "columnPadding": 8, "labelOffset": 3}}
 }},
{"data": {"values": [{"t": "g"}]}, "mark": {"type": "point", "shape": "square", "size": 196, "filled": true, "fill": "white", "stroke": "black", "strokeWidth": 1, "opacity": 1}, "encoding": {"x": {"datum": "61.5"}, "y": {"datum": 2000, "axis": {"values": [0,500,1000,1500,2000], "tickCount": 10, "labelExpr": "replace(format(datum.value,'.1e'),'e+','E+0')", "title": ["Particle Number","(N Dp)"], "grid": true, "tickSize": 4, "labelPadding": 3, "titlePadding": 8}}}},
{"data": {"values": [{"t": "g"}]}, "mark": {"type": "text", "fontSize": 13, "color": "black"}, "encoding": {"x": {"datum": "61.5"}, "y": {"datum": 2000, "axis": {"values": [0,500,1000,1500,2000], "tickCount": 10, "labelExpr": "replace(format(datum.value,'.1e'),'e+','E+0')", "title": ["Particle Number","(N Dp)"], "grid": true, "tickSize": 4, "labelPadding": 3, "titlePadding": 8}}, "text": {"field": "t"}}}
]
},
{
"width": 726, "height": 124,
"layer": [
{"data": {"name": "h"}, "mark": {"type": "bar", "stroke": "black", "strokeWidth": 0.6},
 "encoding": {
  "x": {"field": "d", "type": "nominal", "scale": {"domain": ["14.1","14.6","15.1","15.7","16.3","16.8","17.5","18.1","18.8","19.5","20.2","20.9","21.7","22.5","23.3","24.1","25.0","25.9","26.9","27.9","28.9","30","31.1","32.2","33.4","34.6","35.9","37.2","38.5","40.0","41.4","42.9","44.5","46.1","47.8","49.6","51.4","53.3","55.2","57.3","59.4","61.5"], "paddingInner": 0.3, "paddingOuter": 0.15},
   "axis": {"title": "Diameter (nm)", "labelAngle": 0, "labelOverlap": false, "tickBand": "extent", "tickSize": 4, "labelPadding": 9, "titleX": 317, "titleY": 60, "titleBaseline": "middle", "labelExpr": "indexof(['14.1','15.7','17.5','19.5','21.7','24.1','26.9','30','30.0','33.4','37.2','41.4','46.1','51.4','57.3'], datum.label) >= 0 ? datum.label : ''"}},
  "xOffset": {"field": "s", "type": "nominal", "scale": {"domain": ["10 min","20 min","40 min"]}},
  "y": {"field": "v", "type": "quantitative", "scale": {"domain": [0, 2000], "nice": false},
   "axis": {"values": [0,500,1000,1500,2000], "tickCount": 10, "labelExpr": "replace(format(datum.value,'.1e'),'e+','E+0')", "title": ["Particle Number","(N Dp)"], "grid": true, "tickSize": 4, "labelPadding": 3, "titlePadding": 8}},
  "fill": {"field": "s", "type": "nominal", "scale": {"domain": ["10 min","20 min","40 min"], "range": ["#000000","#8c8c8c","#ffffff"]},
   "legend": {"orient": "none", "legendX": -104, "legendY": 199, "direction": "horizontal", "columns": 3, "title": null, "strokeColor": "black", "fillColor": "white", "padding": 3, "symbolType": "square", "symbolSize": 64, "symbolStrokeColor": "black", "symbolStrokeWidth": 0.6, "columnPadding": 8, "labelOffset": 3}}
 }},
{"data": {"values": [{"t": "h"}]}, "mark": {"type": "point", "shape": "square", "size": 196, "filled": true, "fill": "white", "stroke": "black", "strokeWidth": 1, "opacity": 1}, "encoding": {"x": {"datum": "61.5"}, "y": {"datum": 2000, "axis": {"values": [0,500,1000,1500,2000], "tickCount": 10, "labelExpr": "replace(format(datum.value,'.1e'),'e+','E+0')", "title": ["Particle Number","(N Dp)"], "grid": true, "tickSize": 4, "labelPadding": 3, "titlePadding": 8}}}},
{"data": {"values": [{"t": "h"}]}, "mark": {"type": "text", "fontSize": 13, "color": "black"}, "encoding": {"x": {"datum": "61.5"}, "y": {"datum": 2000, "axis": {"values": [0,500,1000,1500,2000], "tickCount": 10, "labelExpr": "replace(format(datum.value,'.1e'),'e+','E+0')", "title": ["Particle Number","(N Dp)"], "grid": true, "tickSize": 4, "labelPadding": 3, "titlePadding": 8}}, "text": {"field": "t"}}}
]
}
]
}
